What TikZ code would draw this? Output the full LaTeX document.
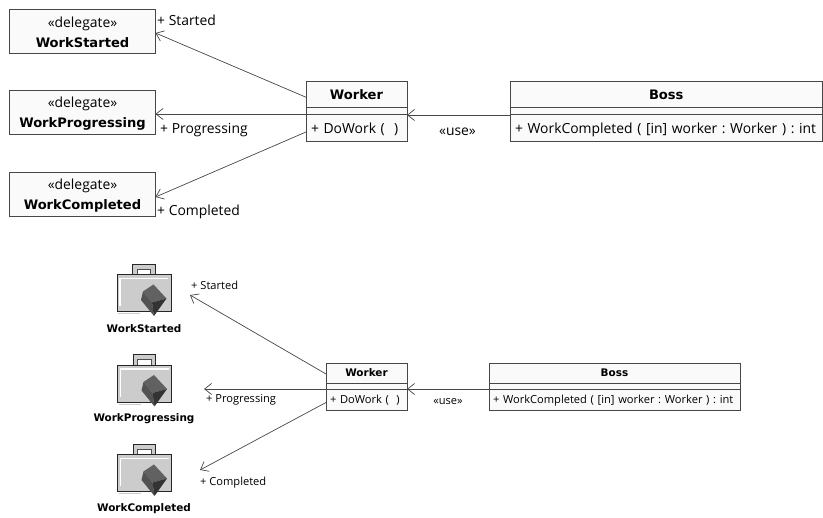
\documentclass[tikz,border=0pt]{standalone}
\usepackage{fontspec}
\setmainfont{Open Sans}[BoldFont={DejaVu Sans Bold},BoldFeatures={Scale=0.94}]
\frenchspacing
\usetikzlibrary{arrows.meta}
\usetikzlibrary{positioning}
\colorlet{umlline}{black!72}
\colorlet{umlfill}{black!2}
\tikzset{>={Straight Barb[length=7pt,width=11pt]}}
\tikzset{
  classbox/.style={draw=umlline,fill=umlfill,line width=0.8pt,outer sep=0pt,inner sep=0pt,font=\fontsize{13.9}{16.5}\selectfont},
  smallbox/.style={classbox,font=\fontsize{11.1}{13}\selectfont},
  titletext/.style={text height=11.5pt,text depth=0pt},
  smalltitletext/.style={text height=7.5pt,text depth=0pt},
  optext/.style={text height=13pt,text depth=1pt,align=left},
  smalloptext/.style={text height=10pt,text depth=2pt,align=left},
  delegatebox/.style={classbox,minimum width=146pt,minimum height=44pt,align=center,font=\fontsize{13.9}{19.5}\selectfont},
  assoc/.style={->,draw=umlline,line width=0.7pt},
  tag/.style={inner sep=0pt,font=\fontsize{13.9}{16}\selectfont},
  smalltag/.style={inner sep=0pt,font=\fontsize{11.1}{13}\selectfont},
  iconbody/.style={draw=black!85,fill=black!20,line width=1pt,minimum width=54pt,minimum height=37pt,inner sep=0pt,outer sep=0pt},
  iconname/.style={inner sep=0pt,font=\bfseries\fontsize{11.1}{13}\selectfont}
}
\newcommand{\delegatetext}[1]{\rule{0pt}{13.6pt}«delegate»\\\textbf{#1}}
% briefcase icon: name, centre x, centre y
\newcommand{\briefcase}[3]{
  \draw[black!85,fill=black!20,line width=1pt] (#2-11.5,#3-18) -- (#2-11.5,#3-29) -- (#2+11,#3-29) -- (#2+11,#3-18);
  \fill[white] (#2-7,#3-18) rectangle (#2+6.5,#3-24.5);
  \draw[black!70,line width=0.8pt] (#2-7,#3-18) -- (#2-7,#3-24.5) -- (#2+6.5,#3-24.5) -- (#2+6.5,#3-18);
  \node[iconbody] (#1) at (#2,#3) {};
  \draw[white,line width=1.3pt] (#2-24,#3+13) -- (#2-24,#3-15) -- (#2+24,#3-15);
  \fill[black!62] (#2+9.5,#3-9) -- (#2+22.5,#3+5) -- (#2+8,#3+9) -- (#2-1,#3-2) -- cycle;
  \fill[black!68] (#2-1,#3-2) -- (#2+8,#3+9) -- (#2+10,#3+22.5) -- (#2-3,#3+6.5) -- cycle;
  \fill[black!80] (#2+8,#3+9) -- (#2+22.5,#3+5) -- (#2+10,#3+22.5) -- cycle;
  \draw[black!20,line width=0.6pt] (#2-26,#3+20) -- (#2-4,#3+20);
}
\begin{document}
\begin{tikzpicture}[x=1pt,y=-1pt]
\useasboundingbox (0,0) rectangle (823,518);
% top diagram
\node[delegatebox] (startedtop) at (82.5,31) {\delegatetext{WorkStarted}};
\node[delegatebox] (progresstop) at (82.5,112) {\delegatetext{WorkProgressing}};
\node[delegatebox] (completedtop) at (82.5,194) {\delegatetext{WorkCompleted}};

\node[classbox,titletext,minimum width=101pt,minimum height=26.5pt] (workertitle) at (356.5,94.25) {\textbf{Worker}};
\node[classbox,minimum width=101pt,minimum height=6.5pt,below=0pt of workertitle] (workerattr) {};
\node[classbox,optext,minimum width=101pt,minimum height=27pt,below=0pt of workerattr,text width=91pt] (workerop) {+ DoWork (\ \ )};

\node[classbox,titletext,minimum width=312.5pt,minimum height=26.5pt] (bosstitle) at (666.25,94.25) {\textbf{Boss}};
\node[classbox,minimum width=312.5pt,minimum height=6.5pt,below=0pt of bosstitle] (bossattr) {};
\node[classbox,optext,minimum width=312.5pt,minimum height=27pt,below=0pt of bossattr,text width=302.5pt] (bossop) {+ WorkCompleted ( [in] worker : Worker ) : int};

\draw[assoc] ([yshift=-3pt]workertitle.west) -- ([yshift=-2pt]startedtop.east);
\draw[assoc] (workerop.north west) -- ([yshift=-2pt]progresstop.east);
\draw[assoc] ([yshift=-4.5pt]workerop.west) -- ([yshift=-3pt]completedtop.east);
\draw[assoc] ([yshift=-1pt]bossop.north west) -- ([yshift=-1pt]workerop.north east);

\node[tag,anchor=west] (startedtag) at (157,20.5) {+ Started};
\node[tag,anchor=west] (progresstag) at (160,130) {+ Progressing};
\node[tag,anchor=west] (completedtag) at (157,212) {+ Completed};
\node[tag] (usetag) at (457.5,131.5) {«use»};

% bottom diagram
\briefcase{startedicon}{144}{293.5}
\briefcase{progressicon}{144.5}{384}
\briefcase{completedicon}{144.5}{473.5}
\node[iconname] (startedname) at (144,329) {WorkStarted};
\node[iconname] (progressname) at (144,419) {WorkProgressing};
\node[iconname] (completedname) at (144,509) {WorkCompleted};

\coordinate (startedend) at (190,295);
\coordinate (progressend) at (204,389);
\coordinate (completedend) at (200,470);

\node[smallbox,smalltitletext,minimum width=81pt,minimum height=20pt] (lowworkertitle) at (366.5,373) {\textbf{Worker}};
\node[smallbox,minimum width=81pt,minimum height=6pt,below=0pt of lowworkertitle] (lowworkerattr) {};
\node[smallbox,smalloptext,minimum width=81pt,minimum height=21pt,below=0pt of lowworkerattr,text width=73pt] (lowworkerop) {+ DoWork (\ \ )};

\node[smallbox,smalltitletext,minimum width=251pt,minimum height=20pt] (lowbosstitle) at (614.5,373) {\textbf{Boss}};
\node[smallbox,minimum width=251pt,minimum height=6pt,below=0pt of lowbosstitle] (lowbossattr) {};
\node[smallbox,smalloptext,minimum width=251pt,minimum height=21pt,below=0pt of lowbossattr,text width=243pt] (lowbossop) {+ WorkCompleted ( [in] worker : Worker ) : int};

\draw[assoc] ([yshift=-1pt]lowworkertitle.west) -- (startedend);
\draw[assoc] (lowworkerop.north west) -- (progressend);
\draw[assoc] ([yshift=-3pt]lowworkerop.west) -- (completedend);
\draw[assoc] (lowbossop.north west) -- (lowworkerop.north east);

\node[smalltag,anchor=west] (startedlow) at (191,285) {+ Started};
\node[smalltag,anchor=west] (progresslow) at (206,400) {+ Progressing};
\node[smalltag,anchor=west] (completedlow) at (200,483) {+ Completed};
\node[smalltag] (uselow) at (448,402) {«use»};
\end{tikzpicture}
\end{document}
